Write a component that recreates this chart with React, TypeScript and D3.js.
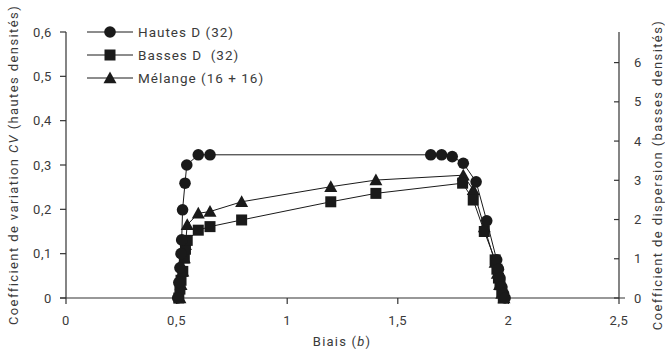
import React from "react";
import * as d3 from "d3";

const hautesX = [0.505, 0.51, 0.515, 0.52, 0.523, 0.527, 0.538, 0.546, 0.598, 0.651, 1.649, 1.698, 1.746, 1.796, 1.854, 1.902, 1.947, 1.955, 1.962, 1.97, 1.978, 1.985];
const hautesY = [0.0, 0.035, 0.068, 0.1, 0.131, 0.199, 0.259, 0.3, 0.323, 0.323, 0.323, 0.323, 0.319, 0.304, 0.262, 0.174, 0.086, 0.065, 0.045, 0.025, 0.01, 0.0];

const bassesX = [0.51, 0.515, 0.52, 0.528, 0.535, 0.54, 0.548, 0.598, 0.651, 0.794, 1.197, 1.401, 1.793, 1.841, 1.891, 1.94, 1.948, 1.955, 1.962, 1.97, 1.977];
const bassesY = [0.0, 0.02, 0.04, 0.06, 0.09, 0.11, 0.13, 0.153, 0.161, 0.176, 0.217, 0.236, 0.259, 0.221, 0.15, 0.086, 0.065, 0.045, 0.03, 0.015, 0.0];

const melangeX = [0.515, 0.52, 0.528, 0.535, 0.54, 0.548, 0.598, 0.651, 0.794, 1.197, 1.401, 1.796, 1.841, 1.891, 1.94, 1.95, 1.96, 1.97, 1.98];
const melangeY = [0.0, 0.03, 0.06, 0.09, 0.12, 0.165, 0.191, 0.195, 0.217, 0.251, 0.266, 0.277, 0.244, 0.16, 0.08, 0.055, 0.03, 0.01, 0.0];

const xTicks = [0, 0.5, 1, 1.5, 2, 2.5];
const yTicks = [0, 0.1, 0.2, 0.3, 0.4, 0.5, 0.6];
const y2Ticks = [0, 1, 2, 3, 4, 5, 6];

const legendLabels = ["Hautes D (32)", "Basses D  (32)", "Mélange (16 + 16)"];

const fmt = (v: number) => String(v).replace(".", ",");

const FONT = "Roboto, 'DejaVu Sans', sans-serif";
const TXT = "#3a3a3a";
const INK = "#1a1a1a";

function Marker({ kind, x, y }: { kind: string; x: number; y: number }) {
  if (kind === "circle") return <circle cx={x} cy={y} r={5.8} fill={INK} />;
  if (kind === "square") return <rect x={x - 5.5} y={y - 5.5} width={11} height={11} fill={INK} />;
  const s = 6.5;
  return <path d={`M${x},${y - s} L${x + s},${y + s * 0.8} L${x - s},${y + s * 0.8} Z`} fill={INK} />;
}

export default function App() {
  const W = 665, H = 353;
  const x = d3.scaleLinear().domain([0, 2.5]).range([66, 619]);
  const y = d3.scaleLinear().domain([0, 0.6]).range([298, 32]);
  const y2 = d3.scaleLinear().domain([0, 6.78]).range([298, 32]);
  const line = d3.line<[number, number]>().x(d => x(d[0])).y(d => y(d[1]));

  const series = [
    { kind: "triangle", xs: melangeX, ys: melangeY },
    { kind: "square", xs: bassesX, ys: bassesY },
    { kind: "circle", xs: hautesX, ys: hautesY },
  ];
  const legendKinds = ["circle", "square", "triangle"];
  const legendY = [32, 55, 78];

  return (
    <svg width={W} height={H} style={{ position: "absolute", left: 0, top: 0, background: "#fff" }} fontFamily={FONT}>
      {/* axes */}
      <g stroke="#333" strokeWidth={1.2} fill="none">
        <line x1={66} x2={66} y1={y(0.6)} y2={298} />
        <line x1={60} x2={625} y1={298} y2={298} />
        <line x1={619} x2={619} y1={y(0.6)} y2={298} />
        {yTicks.map(t => <line key={"yt" + t} x1={60} x2={66} y1={y(t)} y2={y(t)} />)}
        {xTicks.map(t => <line key={"xt" + t} x1={x(t)} x2={x(t)} y1={298} y2={304} />)}
        {y2Ticks.map(t => <line key={"y2t" + t} x1={614} x2={619} y1={y2(t)} y2={y2(t)} />)}
      </g>
      <g fill={TXT} fontSize={13} letterSpacing={0.6}>
        {yTicks.map(t => (
          <text key={"yl" + t} x={52} y={y(t)} dy="0.35em" textAnchor="end">{fmt(t)}</text>
        ))}
        {xTicks.map(t => (
          <text key={"xl" + t} x={x(t)} y={320} dy="0.35em" textAnchor="middle">{fmt(t)}</text>
        ))}
        {y2Ticks.map(t => (
          <text key={"y2l" + t} x={634} y={y2(t)} dy="0.35em" textAnchor="start">{fmt(t)}</text>
        ))}
        <text x={342} y={341} dy="0.35em" textAnchor="middle" letterSpacing={1.2}>Biais (<tspan fontStyle="italic">b</tspan>)</text>
        <text transform="translate(13,165) rotate(-90)" textAnchor="middle" dy="0.35em" letterSpacing={1.4}>
          Coefficient de variation <tspan fontStyle="italic">CV</tspan> (hautes densités)
        </text>
        <text transform="translate(657,175) rotate(-90)" textAnchor="middle" dy="0.35em" letterSpacing={1.4}>
          Coefficient de dispersion (basses densités)
        </text>
      </g>
      {/* series */}
      {series.map(s => {
        const pts = s.xs.map((v, i) => [v, s.ys[i]] as [number, number]);
        return (
          <g key={s.kind}>
            <path d={line(pts) || ""} fill="none" stroke={INK} strokeWidth={1} />
            {pts.map((p, i) => <Marker key={i} kind={s.kind} x={x(p[0])} y={y(p[1])} />)}
          </g>
        );
      })}
      {/* legend */}
      <g>
        {legendLabels.map((l, i) => (
          <g key={l}>
            <line x1={87} x2={133} y1={legendY[i]} y2={legendY[i]} stroke={INK} strokeWidth={1} />
            <Marker kind={legendKinds[i]} x={110} y={legendY[i]} />
            <text x={138} y={legendY[i]} dy="0.35em" fontSize={13.5} letterSpacing={1} fill={TXT} style={{ whiteSpace: "pre" }}>{l}</text>
          </g>
        ))}
      </g>
    </svg>
  );
}
